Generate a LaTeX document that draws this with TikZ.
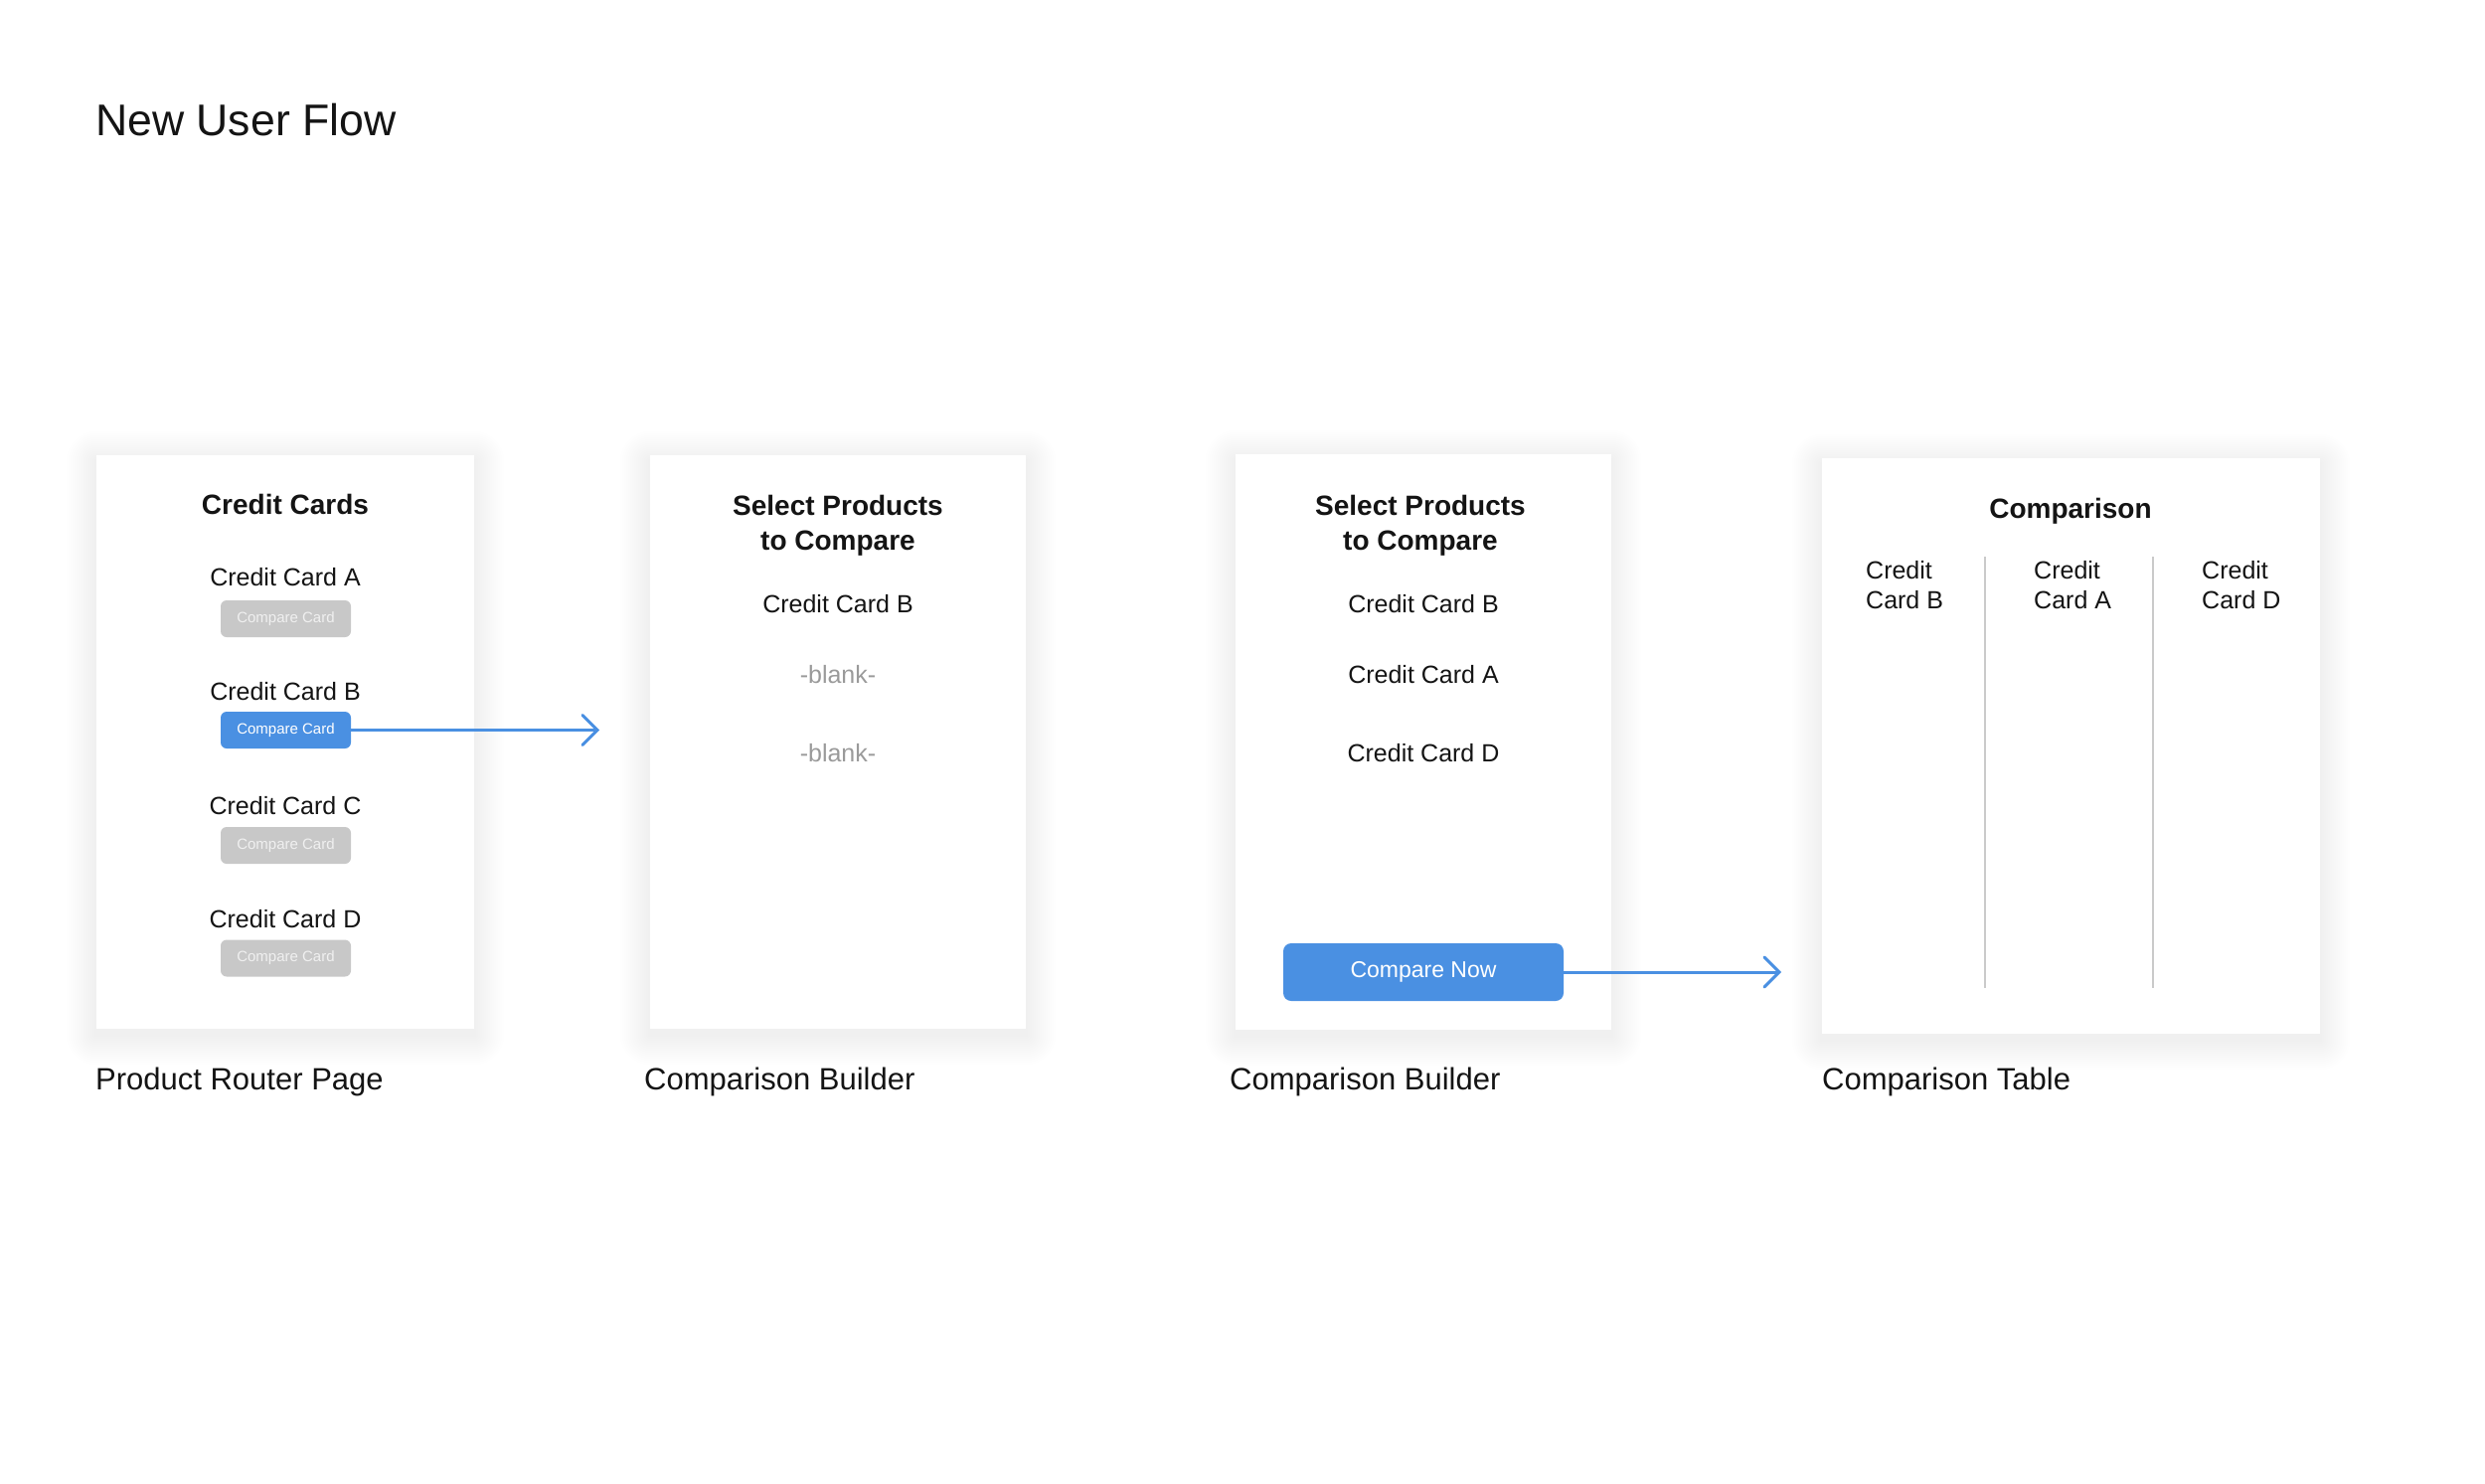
\documentclass[tikz,border=0pt]{standalone}
\usepackage{fontspec}
\setmainfont{Liberation Sans}
\usetikzlibrary{arrows.meta}
\pgfdeclarelayer{background}
\pgfsetlayers{background,main}
\definecolor{flowblue}{HTML}{4A90E2}
\definecolor{btngrey}{HTML}{C8C8C8}
\definecolor{inkblack}{HTML}{141414}
\definecolor{blankgrey}{HTML}{9A9A9A}
\definecolor{rulegrey}{HTML}{CACACA}
\begin{document}
\begin{tikzpicture}[x=1pt,y=-1pt,
    panel/.style={fill=white,inner sep=0pt},
    txt/.style={inner sep=0pt,anchor=base,text=inkblack,font=\fontsize{25}{30}\selectfont},
    head/.style={inner sep=0pt,text=inkblack,font=\bfseries\fontsize{28}{35}\selectfont},
    caption/.style={inner sep=0pt,anchor=base west,text=inkblack,font=\fontsize{31}{36}\selectfont},
    cardbtn/.style={rounded corners=6pt,fill=btngrey,text=white!94!black,inner sep=0pt,
      minimum width=131pt,minimum height=37pt,font=\fontsize{15}{18}\selectfont},
    flow/.style={draw=flowblue,line width=3pt,-{Straight Barb[length=15pt,width=30pt,line cap=round]}}]
  \useasboundingbox (0,0) rectangle (2500,1493);
  \node[caption,font=\fontsize{44.6}{50}\selectfont] (title) at (96,136) {New User Flow};

  % panels
  \node[panel,minimum width=380pt,minimum height=577pt] (p1) at (287,746.5) {};
  \node[panel,minimum width=378pt,minimum height=577pt] (p2) at (843,746.5) {};
  \node[panel,minimum width=378pt,minimum height=579pt] (p3) at (1432,746.5) {};
  \node[panel,minimum width=501pt,minimum height=579pt] (p4) at (2083.5,750.5) {};

  % soft shadows under the panels
  \begin{pgfonlayer}{background}
    \fill[white] (0,0) rectangle (2500,1493);
    \foreach \p in {p1,p2,p3,p4}
      \foreach \k in {1,...,15}
        \fill[black,opacity=0.0048,rounded corners=2*\k pt]
          ([shift={(-2*\k,-2*\k+6)}]\p.north west) rectangle ([shift={(2*\k,2*\k+6)}]\p.south east);
  \end{pgfonlayer}

  % product router page
  \node[head,anchor=base] (cc) at (287,517) {Credit Cards};
  \node[txt] (ccA) at (287,589) {Credit Card A};
  \node[cardbtn] (btnA) at (287.5,622.5) {Compare Card};
  \node[txt] (ccB) at (287,704) {Credit Card B};
  \node[cardbtn,fill=flowblue,text=white] (btnB) at (287.5,734.5) {Compare Card};
  \node[txt] (ccC) at (287,819) {Credit Card C};
  \node[cardbtn] (btnC) at (287.5,850.5) {Compare Card};
  \node[txt] (ccD) at (287,933) {Credit Card D};
  \node[cardbtn] (btnD) at (287.5,964) {Compare Card};
  \coordinate (endB) at (603,734.5);
  \draw[flow] (btnB.east) -- (endB);

  % comparison builder, empty
  \node[head,anchor=north,align=center] (sel2) at (843,498) {Select Products\\to Compare};
  \node[txt] (b2B) at (843,616) {Credit Card B};
  \node[txt,text=blankgrey] (b2x) at (843,687) {-blank-};
  \node[txt,text=blankgrey] (b2y) at (843,766) {-blank-};

  % comparison builder, filled
  \node[head,anchor=north,align=center] (sel3) at (1429,498) {Select Products\\to Compare};
  \node[txt] (b3B) at (1432,616) {Credit Card B};
  \node[txt] (b3A) at (1432,687) {Credit Card A};
  \node[txt] (b3D) at (1432,766) {Credit Card D};
  \node[cardbtn,fill=flowblue,text=white,rounded corners=8pt,minimum width=282pt,minimum height=58pt,
    font=\fontsize{23}{28}\selectfont] (now) at (1432,978) {Compare Now};
  \coordinate (endNow) at (1792,978);
  \draw[flow] (now.east) -- (endNow);

  % comparison table
  \node[head,anchor=base] (cmp) at (2083,521) {Comparison};
  \node[txt,anchor=north west,align=left] (colB) at (1877,564) {Credit\\Card B};
  \node[txt,anchor=north west,align=left] (colA) at (2046,564) {Credit\\Card A};
  \node[txt,anchor=north west,align=left] (colD) at (2215,564) {Credit\\Card D};
  \draw[rulegrey,line width=1.6pt] (1997,560) -- (1997,994);
  \draw[rulegrey,line width=1.6pt] (2166,560) -- (2166,994);

  % captions
  \node[caption] (l1) at (96,1096) {Product Router Page};
  \node[caption] (l2) at (648,1096) {Comparison Builder};
  \node[caption] (l3) at (1237,1096) {Comparison Builder};
  \node[caption] (l4) at (1833,1096) {Comparison Table};
\end{tikzpicture}
\end{document}
